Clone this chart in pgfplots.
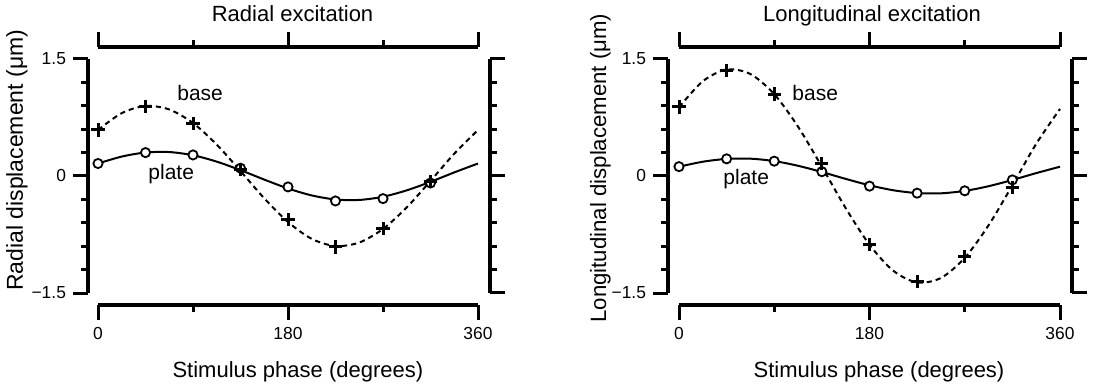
\documentclass[border=0pt]{standalone}
\usepackage{fontspec}
\setmainfont{Liberation Sans}
\usepackage{pgfplots}
\pgfplotsset{compat=1.18}

\pgfplotstableread{
x y
0 0.590
22.5 0.806
45 0.898
67.5 0.853
90 0.679
112.5 0.402
135 0.063
157.5 -0.286
180 -0.590
202.5 -0.806
225 -0.898
247.5 -0.853
270 -0.679
292.5 -0.402
315 -0.063
337.5 0.286
360 0.590
}\radbasefit
\pgfplotstableread{
x y
0 0.160
22.5 0.249
45 0.301
67.5 0.307
90 0.266
112.5 0.184
135 0.075
157.5 -0.046
180 -0.160
202.5 -0.249
225 -0.301
247.5 -0.307
270 -0.266
292.5 -0.184
315 -0.075
337.5 0.046
360 0.160
}\radplatefit
\pgfplotstableread{
x y
0 0.59
45 0.89
90 0.67
135 0.08
180 -0.56
225 -0.91
270 -0.67
315 -0.07
}\radbase
\pgfplotstableread{
x y
0 0.16
45 0.30
90 0.27
135 0.10
180 -0.14
225 -0.32
270 -0.29
315 -0.09
}\radplate
\pgfplotstableread{
x y
0 0.881
22.5 1.215
45 1.365
67.5 1.307
90 1.049
112.5 0.632
135 0.119
157.5 -0.412
180 -0.881
202.5 -1.215
225 -1.365
247.5 -1.307
270 -1.049
292.5 -0.632
315 -0.119
337.5 0.412
360 0.860
}\lonbasefit
\pgfplotstableread{
x y
0 0.119
22.5 0.183
45 0.219
67.5 0.222
90 0.191
112.5 0.131
135 0.051
157.5 -0.037
180 -0.119
202.5 -0.183
225 -0.219
247.5 -0.222
270 -0.191
292.5 -0.131
315 -0.051
337.5 0.037
360 0.119
}\lonplatefit
\pgfplotstableread{
x y
0 0.885
45 1.35
90 1.05
135 0.16
180 -0.88
225 -1.355
270 -1.03
315 -0.15
}\lonbase
\pgfplotstableread{
x y
0 0.12
45 0.22
90 0.19
135 0.055
180 -0.13
225 -0.22
270 -0.19
315 -0.05
}\lonplate

\tikzset{
  ann/.style={anchor=base west, font=\fontsize{10.5}{12}\selectfont, inner sep=0pt},
  ttl/.style={anchor=base, font=\fontsize{11}{13}\selectfont, inner sep=0pt},
}

\pgfplotsset{
  frame/.style={
    scale only axis, height=117pt,
    xmin=0, xmax=360, ymin=-1.5, ymax=1.5,
    xtick={0,180,360}, minor xtick={90,270},
    ytick={-1.5,0,1.5}, minor ytick={-1.2,-0.9,-0.6,-0.3,0.3,0.6,0.9,1.2},
    axis line style={-, line width=1.6pt, black},
    tick style={line width=1.5pt, black},
    major tick length=7.5pt, minor tick length=3.5pt,
    tick align=outside,
    clip=false,
    ticklabel style={font=\fontsize{8.7}{10}\selectfont},
  },
  lowleft/.style={
    frame,
    axis x line*=bottom, axis y line*=left,
    axis x line shift=6pt, axis y line shift=5pt,
    tick align=outside,
    xticklabels={0,180,360},
    yticklabels={−1.5,0,1.5},
    label style={font=\fontsize{11}{13}\selectfont},
  },
  upright/.style={
    frame,
    axis x line*=top, axis y line*=right,
    axis x line shift=6pt, axis y line shift=6pt,
    tick align=outside,
    xticklabels={}, yticklabels={},
  },
  fitline/.style={black, line width=1pt, smooth, no marks},
  basefit/.style={fitline, dash pattern=on 2.6pt off 2pt},
  platemk/.style={only marks, mark=*, mark size=2.3pt, mark options={fill=white, draw=black, line width=0.9pt, solid}},
  basemk/.style={only marks, mark=+, mark size=3.3pt, mark options={black, line width=1.5pt, solid}},
}

\begin{document}
\begin{tikzpicture}
\useasboundingbox (0,0) rectangle (548pt,192.5pt);

% ---------- Left panel ----------
\begin{axis}[upright, width=190pt, at={(49pt,46pt)}, anchor=south west]
\end{axis}
\begin{axis}[lowleft, width=190pt, at={(49pt,46pt)}, anchor=south west,
  xlabel={Stimulus phase (degrees)},
  xlabel style={at={(axis description cs:0.526,-0.359)}, anchor=base},
  ylabel={Radial displacement (μm)},
  ylabel style={at={(axis description cs:-0.198,0.567)}, anchor=base, font=\fontsize{11.5}{13}\selectfont},
]
\addplot[fitline] table {\radplatefit};
\addplot[platemk] table {\radplate};
\addplot[basefit] table {\radbasefit};
\addplot[basemk] table {\radbase};
\node[ann] at (axis cs:74.8,0.974) {base};
\node[ann] at (axis cs:47.4,-0.05) {plate};
\node[ttl] at (axis description cs:0.512,1.162) {Radial excitation};
\end{axis}

% ---------- Right panel ----------
\begin{axis}[upright, width=190.5pt, at={(339.5pt,46pt)}, anchor=south west]
\end{axis}
\begin{axis}[lowleft, width=190.5pt, at={(339.5pt,46pt)}, anchor=south west,
  axis y line shift=5.5pt,
  xlabel={Stimulus phase (degrees)},
  xlabel style={at={(axis description cs:0.525,-0.359)}, anchor=base},
  ylabel={Longitudinal displacement (μm)},
  ylabel style={at={(axis description cs:-0.1916,0.534)}, anchor=base, font=\fontsize{11.1}{13}\selectfont},
]
\addplot[fitline] table {\lonplatefit};
\addplot[platemk] table {\lonplate};
\addplot[basefit] table {\lonbasefit};
\addplot[basemk] table {\lonbase};
\node[ann] at (axis cs:106.8,0.974) {base};
\node[ann] at (axis cs:41.6,-0.115) {plate};
\node[ttl] at (axis description cs:0.5066,1.162) {Longitudinal excitation};
\end{axis}
\end{tikzpicture}
\end{document}
